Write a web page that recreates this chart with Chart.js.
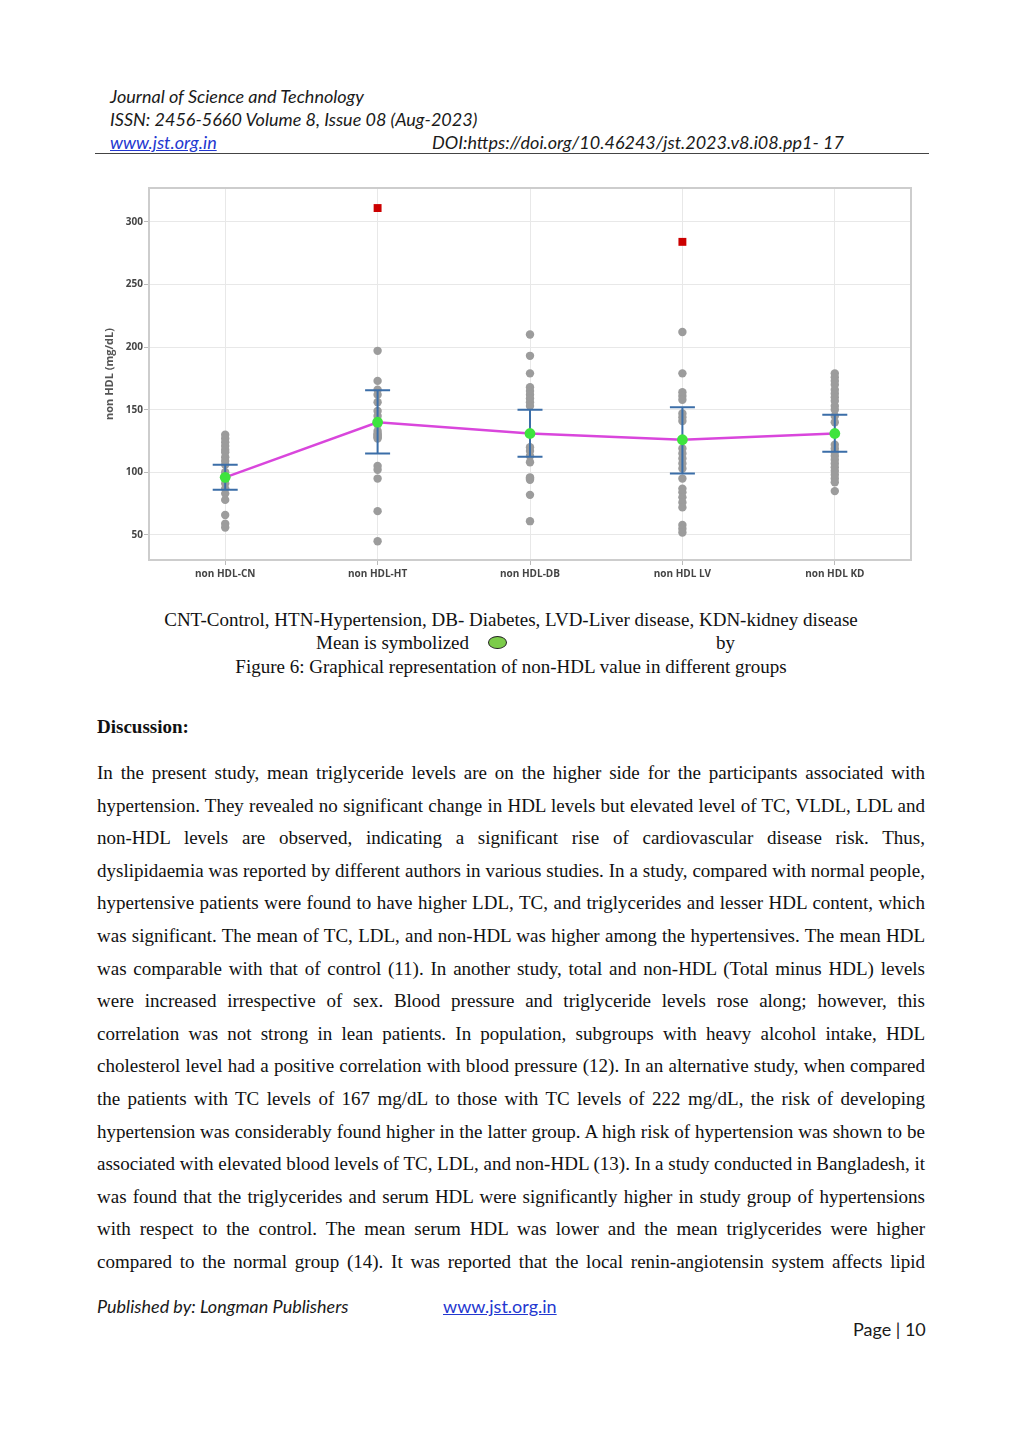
<!DOCTYPE html>
<html><head><meta charset="utf-8">
<script src="https://cdn.jsdelivr.net/npm/chart.js@4.4.0/dist/chart.umd.min.js"></script>
<style>
html,body{margin:0;padding:0;background:#fff;}
body{width:1024px;height:1447px;position:relative;overflow:hidden;}
.abs{position:absolute;white-space:nowrap;}
.hdr{font-family:Lato,"Open Sans",sans-serif;font-style:italic;font-size:18px;color:#1a1a1a;line-height:20px;}
.link{color:#2438d0;text-decoration:underline;}
.serif{font-family:"Liberation Serif","Times New Roman",serif;color:#111;font-size:19px;line-height:20px;}
.jl{position:absolute;left:97px;width:828px;text-align:justify;text-align-last:justify;}
#rule{position:absolute;left:95px;top:153px;width:834px;height:0;border-top:1.3px solid #444;}
#chartBox{position:absolute;left:95px;top:180px;width:830px;height:410px;}
.sym{display:inline-block;position:absolute;left:488px;top:636px;width:17px;height:11px;border-radius:50%;background:#7ccc4a;border:1.6px solid #222;}
#measure{position:absolute;left:0;top:-200px;visibility:hidden;white-space:nowrap;}
</style></head>
<body>
<div class="abs hdr" style="left:110px;top:86px;">Journal of Science and Technology</div>
<div class="abs hdr" style="left:110px;top:109px;">ISSN: 2456-5660 Volume 8, Issue 08 (Aug-2023)</div>
<div class="abs hdr link" style="left:110px;top:132px;">www.jst.org.in</div>
<div class="abs hdr" style="left:432px;top:132px;">DOI:https://doi.org/10.46243/jst.2023.v8.i08.pp1- 17</div>
<div id="rule"></div>

<div id="chartBox"><canvas id="c" width="830" height="410"></canvas></div>

<div class="abs serif" style="left:0;width:1022px;text-align:center;top:610px;">CNT-Control, HTN-Hypertension, DB- Diabetes, LVD-Liver disease, KDN-kidney disease</div>
<div class="abs serif" style="left:316px;top:633px;">Mean is symbolized</div>
<span class="sym"></span>
<div class="abs serif" style="left:716px;top:633px;">by</div>
<div class="abs serif" style="left:0;width:1022px;text-align:center;top:657px;">Figure 6: Graphical representation of non-HDL value in different groups</div>

<div class="abs serif" style="left:97px;top:717px;font-weight:bold;">Discussion:</div>

<div id="body"></div>
<span id="measure" class="serif"></span>

<div class="abs hdr" style="left:97px;top:1296px;">Published by: Longman Publishers</div>
<div class="abs hdr link" style="left:443px;top:1296px;font-style:normal;">www.jst.org.in</div>
<div class="abs hdr" style="left:853px;top:1319px;font-style:normal;">Page | 10</div>

<script>
// ---- data ----
const groupLabels = ['non HDL-CN', 'non HDL-HT', 'non HDL-DB', 'non HDL LV', 'non HDL KD'];
const valuesCN = [130, 127, 124, 121, 118, 116, 112, 109, 106, 100, 91, 87, 83, 78, 66, 59, 56];
const valuesHT = [197, 173, 166, 162, 156, 149, 145, 138, 133, 131, 130, 129, 128, 127, 105, 102, 95, 69, 45];
const valuesDB = [210, 193, 179, 168, 165, 162, 159, 156, 153, 120, 117, 113, 108, 96, 95, 94, 82, 61];
const valuesLV = [212, 179, 164, 161, 158, 147, 144, 141, 119, 115, 111, 107, 103, 95, 87, 84, 80, 76, 72, 58, 55, 52];
const valuesKD = [179, 176, 173, 170, 166, 163, 160, 157, 153, 150, 145, 140, 122, 119, 116, 113, 110, 107, 104, 101, 98, 95, 92, 85];
const outlierGroups = [1, 3];
const outlierValues = [311, 284];
const means = [96, 140, 131, 126, 131];
const ciLower = [86, 115, 112.5, 99, 116.5];
const ciUpper = [106, 165.5, 150, 152, 146];
const yTicks = [50, 100, 150, 200, 250, 300];
const yTitle = 'non HDL (mg/dL)';

const bodyLines = [
"In the present study, mean triglyceride levels are on the higher side for the participants associated with",
"hypertension. They revealed no significant change in HDL levels but elevated level of TC, VLDL, LDL and",
"non-HDL levels are observed, indicating a significant rise of cardiovascular disease risk.  Thus,",
"dyslipidaemia was reported by different authors in various studies. In a study, compared with normal people,",
"hypertensive patients were found to have higher LDL, TC, and triglycerides and lesser HDL content, which",
"was significant. The mean of TC, LDL, and non-HDL was higher among the hypertensives. The mean HDL",
"was comparable with that of control (11). In another study, total and non-HDL (Total minus HDL) levels",
"were increased irrespective of sex. Blood pressure and triglyceride levels rose along; however, this",
"correlation was not strong in lean patients. In population, subgroups with heavy alcohol intake, HDL",
"cholesterol level had a positive correlation with blood pressure (12). In an alternative study, when compared",
"the patients with TC levels of 167 mg/dL to those with TC levels of 222 mg/dL, the risk of developing",
"hypertension was considerably found higher in the latter group. A high risk of hypertension was shown to be",
"associated with elevated blood levels of TC, LDL, and non-HDL (13). In a study conducted in Bangladesh, it",
"was found that the triglycerides and serum HDL were significantly higher in study group of hypertensions",
"with respect to the control. The mean serum HDL was lower and the mean triglycerides were higher",
"compared to the normal group (14). It was reported that the local renin-angiotensin system affects lipid"
];

// body text, one justified line each; squeeze spaces if a line is too long
const bodyEl = document.getElementById('body');
const meas = document.getElementById('measure');
bodyLines.forEach((t, i) => {
  const d = document.createElement('div');
  d.className = 'jl serif';
  d.style.top = (763 + i * 32.6) + 'px';
  d.textContent = t;
  meas.textContent = t;
  const w = meas.getBoundingClientRect().width;
  if (w > 826) {
    const n = (t.match(/ /g) || []).length;
    d.style.wordSpacing = ((826 - w) / n - 0.2) + 'px';
  }
  bodyEl.appendChild(d);
});

// ---- chart ----
const allGroups = [valuesCN, valuesHT, valuesDB, valuesLV, valuesKD];
const pointData = [];
allGroups.forEach((arr, g) => arr.forEach(v => pointData.push({x: g, y: v})));
const meanData = means.map((m, g) => ({x: g, y: m}));
const outlierData = outlierValues.map((v, i) => ({x: outlierGroups[i], y: v}));

const framePlugin = {
  id: 'frame',
  beforeDatasetsDraw(chart) {
    const a = chart.chartArea, ctx = chart.ctx;
    ctx.save();
    ctx.strokeStyle = '#cdcdcd';
    ctx.lineWidth = 2;
    ctx.strokeRect(a.left, a.top, a.right - a.left, a.bottom - a.top);
    ctx.restore();
  }
};
const errorBarPlugin = {
  id: 'errorBars',
  afterDatasetDraw(chart, args) {
    if (chart.data.datasets[args.index].label !== 'values') return;
    const ctx = chart.ctx, xs = chart.scales.x, ys = chart.scales.y;
    ctx.save();
    ctx.strokeStyle = '#3b6ea8';
    ctx.lineWidth = 2;
    means.forEach((m, g) => {
      const x = xs.getPixelForValue(g);
      const y1 = ys.getPixelForValue(ciLower[g]);
      const y2 = ys.getPixelForValue(ciUpper[g]);
      ctx.beginPath();
      ctx.moveTo(x, y1); ctx.lineTo(x, y2);
      ctx.moveTo(x - 12.5, y1); ctx.lineTo(x + 12.5, y1);
      ctx.moveTo(x - 12.5, y2); ctx.lineTo(x + 12.5, y2);
      ctx.stroke();
    });
    ctx.restore();
  }
};

const tickFont = {family: '"Open Sans", sans-serif', size: 10, weight: 'bold'};
new Chart(document.getElementById('c'), {
  type: 'scatter',
  data: {
    datasets: [
      {label: 'mean', data: meanData, showLine: true, borderColor: '#d946dc', borderWidth: 2.5,
       pointRadius: 5.4, pointBackgroundColor: '#3ee43e', pointBorderWidth: 0, order: 0},
      {label: 'outliers', data: outlierData, pointStyle: 'rect', pointRadius: 5.6,
       pointBackgroundColor: '#cc0000', pointBorderWidth: 0, order: 1},
      {label: 'values', data: pointData, pointRadius: 4.2, pointBackgroundColor: '#9c9c9c',
       pointBorderWidth: 0, order: 2}
    ]
  },
  options: {
    responsive: false,
    animation: false,
    events: [],
    layout: {padding: {top: 8, right: 14, left: 0, bottom: 0}},
    plugins: {legend: {display: false}, tooltip: {enabled: false}},
    scales: {
      x: {
        type: 'linear', min: -0.5, max: 4.5,
        afterBuildTicks: s => { s.ticks = groupLabels.map((_, i) => ({value: i})); },
        afterFit: s => { s.height = 30; },
        grid: {color: '#e8e8e8', lineWidth: 1, tickColor: '#bbb', tickLength: 5},
        border: {display: false},
        ticks: {callback: v => groupLabels[v], color: '#444', padding: 3, font: tickFont, maxRotation: 0}
      },
      y: {
        type: 'linear', min: 30, max: 327,
        afterBuildTicks: s => { s.ticks = yTicks.map(v => ({value: v})); },
        afterFit: s => { s.width = 54; },
        grid: {color: '#e8e8e8', lineWidth: 1, tickColor: '#bbb', tickLength: 5},
        border: {display: false},
        title: {display: true, text: yTitle, color: '#555', padding: {top: 8, bottom: 0},
                font: {family: '"Open Sans", sans-serif', size: 11, weight: 'bold'}},
        ticks: {color: '#444', padding: 1, font: tickFont}
      }
    }
  },
  plugins: [framePlugin, errorBarPlugin]
});
</script>
</body></html>
